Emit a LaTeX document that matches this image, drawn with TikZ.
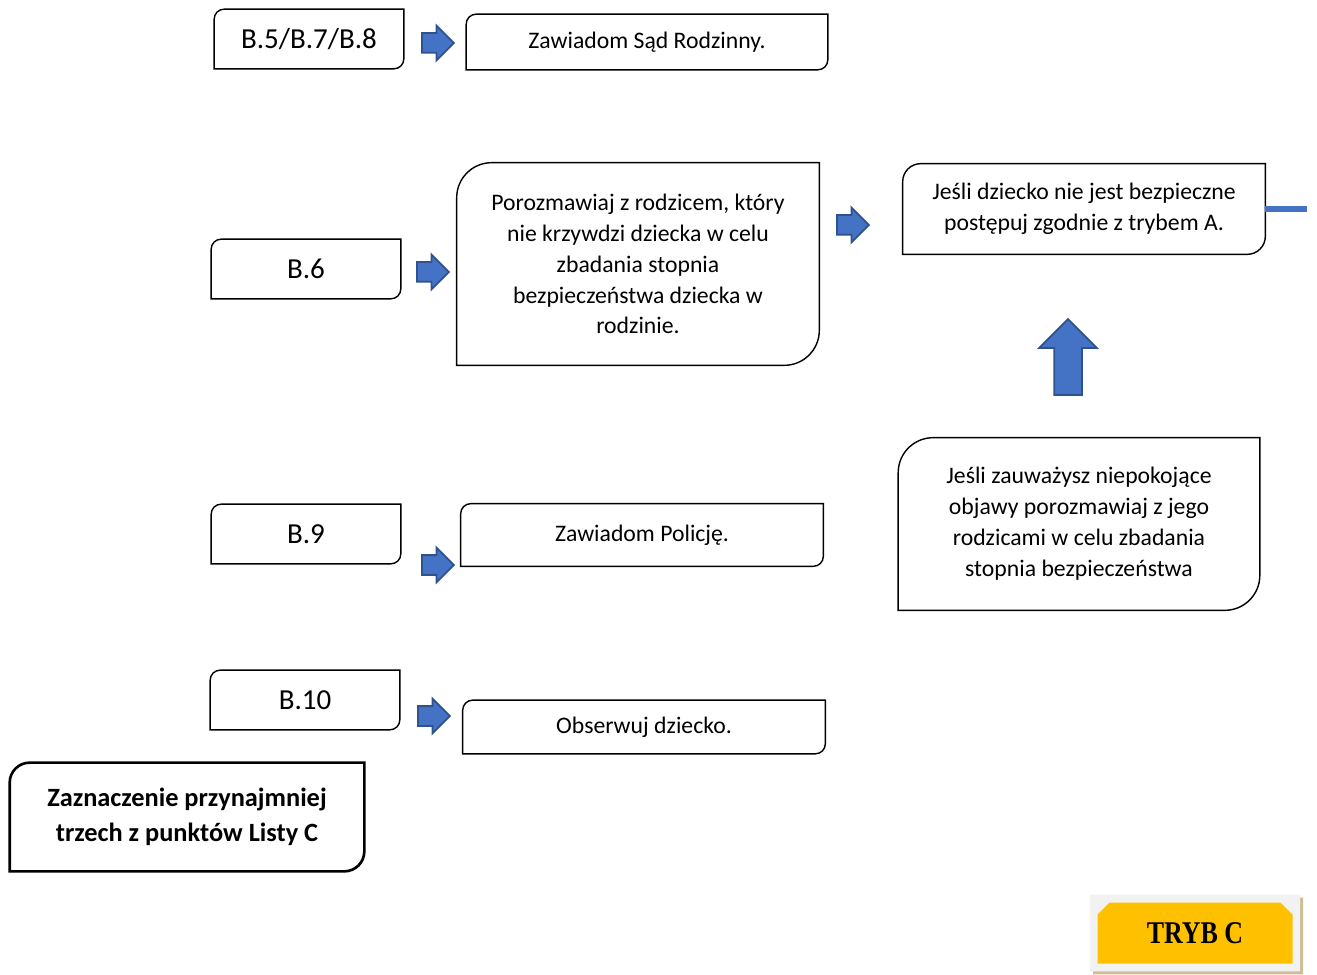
\documentclass[tikz,border=0pt]{standalone}
\usepackage{fontspec}
\setmainfont{Carlito}
\newfontfamily\trybfont[FakeStretch=0.82]{Liberation Serif}
\usetikzlibrary{shapes.arrows,shapes.misc}

\definecolor{arrowblue}{HTML}{4472C4}
\definecolor{arrowedge}{HTML}{2F528F}
\definecolor{trybgold}{HTML}{FFC000}
\definecolor{trybframe}{HTML}{F2F2F2}
\definecolor{trybshade}{HTML}{CDBE93}

% outline with round top-left and bottom-right corners
\newcommand{\diagframe}[2][0.2cm]{%
  \draw[frame] ([xshift=#1]#2.north west) -- (#2.north east)
    -- ([yshift=#1]#2.south east) arc[start angle=0,end angle=-90,radius=#1]
    -- (#2.south west) -- ([yshift=-#1]#2.north west)
    arc[start angle=180,end angle=90,radius=#1] -- cycle;}

\begin{document}
\begin{tikzpicture}[x=0.02cm,y=0.02cm,
    frame/.style = {line width=0.8pt},
    box/.style = {inner sep=0pt, align=center,
        font=\fontsize{13.5}{17.6}\selectfont},
    codebox/.style = {box, minimum width=3.78cm, minimum height=1.18cm,
        font=\fontsize{16.5}{20}\selectfont},
    blockarrow/.style = {single arrow, draw=arrowedge, fill=arrowblue,
        line width=1pt, inner xsep=0pt, inner ysep=0.18cm,
        single arrow head extend=0.15cm,
        minimum height=0.64cm, minimum width=0.66cm}]

\useasboundingbox (0,0) rectangle (1317,974);

% Row B.5/B.7/B.8
\node[codebox] (B578) at (309,935) {B.5/B.7/B.8};
\node[box, minimum width=7.22cm, minimum height=1.1cm] (court) at (647,932) {Zawiadom Sąd Rodzinny.};
\node[blockarrow] (arrCourt) at (433,931) {};

% Row B.6
\node[codebox] (B6) at (306,705) {B.6};
\node[box, minimum width=7.24cm, minimum height=4.04cm] (talk) at (638,710)
    {Porozmawiaj z rodzicem, który\\ nie krzywdzi dziecka w celu\\ zbadania stopnia\\ bezpieczeństwa dziecka w\\ rodzinie.};
\node[blockarrow] (arrTalk) at (428,702) {};
\node[blockarrow] (arrModeA) at (848,749) {};
\node[box, minimum width=7.24cm, minimum height=1.8cm] (modeA) at (1084,765)
    {Jeśli dziecko nie jest bezpieczne\\ postępuj zgodnie z trybem A.};
\coordinate (edge) at (1307,765);

% Row B.9
\node[codebox] (B9) at (306,440) {B.9};
\node[box, minimum width=7.24cm, minimum height=1.24cm] (police) at (642,439) {Zawiadom Policję.};
\node[blockarrow] (arrPolice) at (433,409) {};
\node[box, minimum width=7.22cm, minimum height=3.44cm] (notice) at (1079,450)
    {Jeśli zauważysz niepokojące\\ objawy porozmawiaj z jego\\ rodzicami w celu zbadania\\ stopnia bezpieczeństwa};
\node[blockarrow, rotate=90, minimum height=1.52cm, minimum width=1.12cm,
    inner ysep=0.26cm, single arrow head extend=0.3cm] (arrUp) at (1068,610) {};

% Row B.10
\node[codebox] (B10) at (305,274) {B.10};
\node[box, minimum width=7.24cm, minimum height=1.06cm] (watch) at (644,247) {Obserwuj dziecko.};
\node[blockarrow] (arrWatch) at (429,258) {};

% List C
\node[box, minimum width=7.08cm, minimum height=2.16cm,
    font=\fontsize{15}{19.9}\selectfont\bfseries] (listC) at (187,157)
    {Zaznaczenie przynajmniej\\ trzech z punktów Listy C};

% Outlines
\diagframe{B578}
\diagframe{court}
\diagframe{B6}
\diagframe[0.7cm]{talk}
\diagframe[0.36cm]{modeA}
\diagframe{B9}
\diagframe{police}
\diagframe[0.7cm]{notice}
\diagframe{B10}
\diagframe{watch}
\begin{scope}[frame/.style={line width=1.5pt}]
\diagframe[0.4cm]{listC}
\end{scope}

% Cut line to the right
\draw[arrowblue, line width=3.4pt] (modeA.east) -- (edge);

% Mode label
\node[chamfered rectangle, chamfered rectangle corners={north west,north east},
    chamfered rectangle xsep=0.16cm, chamfered rectangle ysep=0.16cm,
    fill=trybshade, minimum width=4.2cm, minimum height=1.54cm, inner sep=0pt] (trybShade) at (1198,38) {};
\node[chamfered rectangle, chamfered rectangle corners={north west,north east},
    chamfered rectangle xsep=0.16cm, chamfered rectangle ysep=0.16cm,
    fill=trybframe, minimum width=4.2cm, minimum height=1.54cm, inner sep=0pt] (trybFrame) at (1195,41) {};
\node[chamfered rectangle, chamfered rectangle corners={north west,north east},
    chamfered rectangle xsep=0.12cm, chamfered rectangle ysep=0.12cm,
    fill=trybgold, minimum width=3.9cm, minimum height=1.22cm, inner sep=0pt,
    font=\trybfont\fontsize{18}{20}\selectfont\bfseries] (tryb) at (1195,41) {TRYB C};

\end{tikzpicture}
\end{document}
